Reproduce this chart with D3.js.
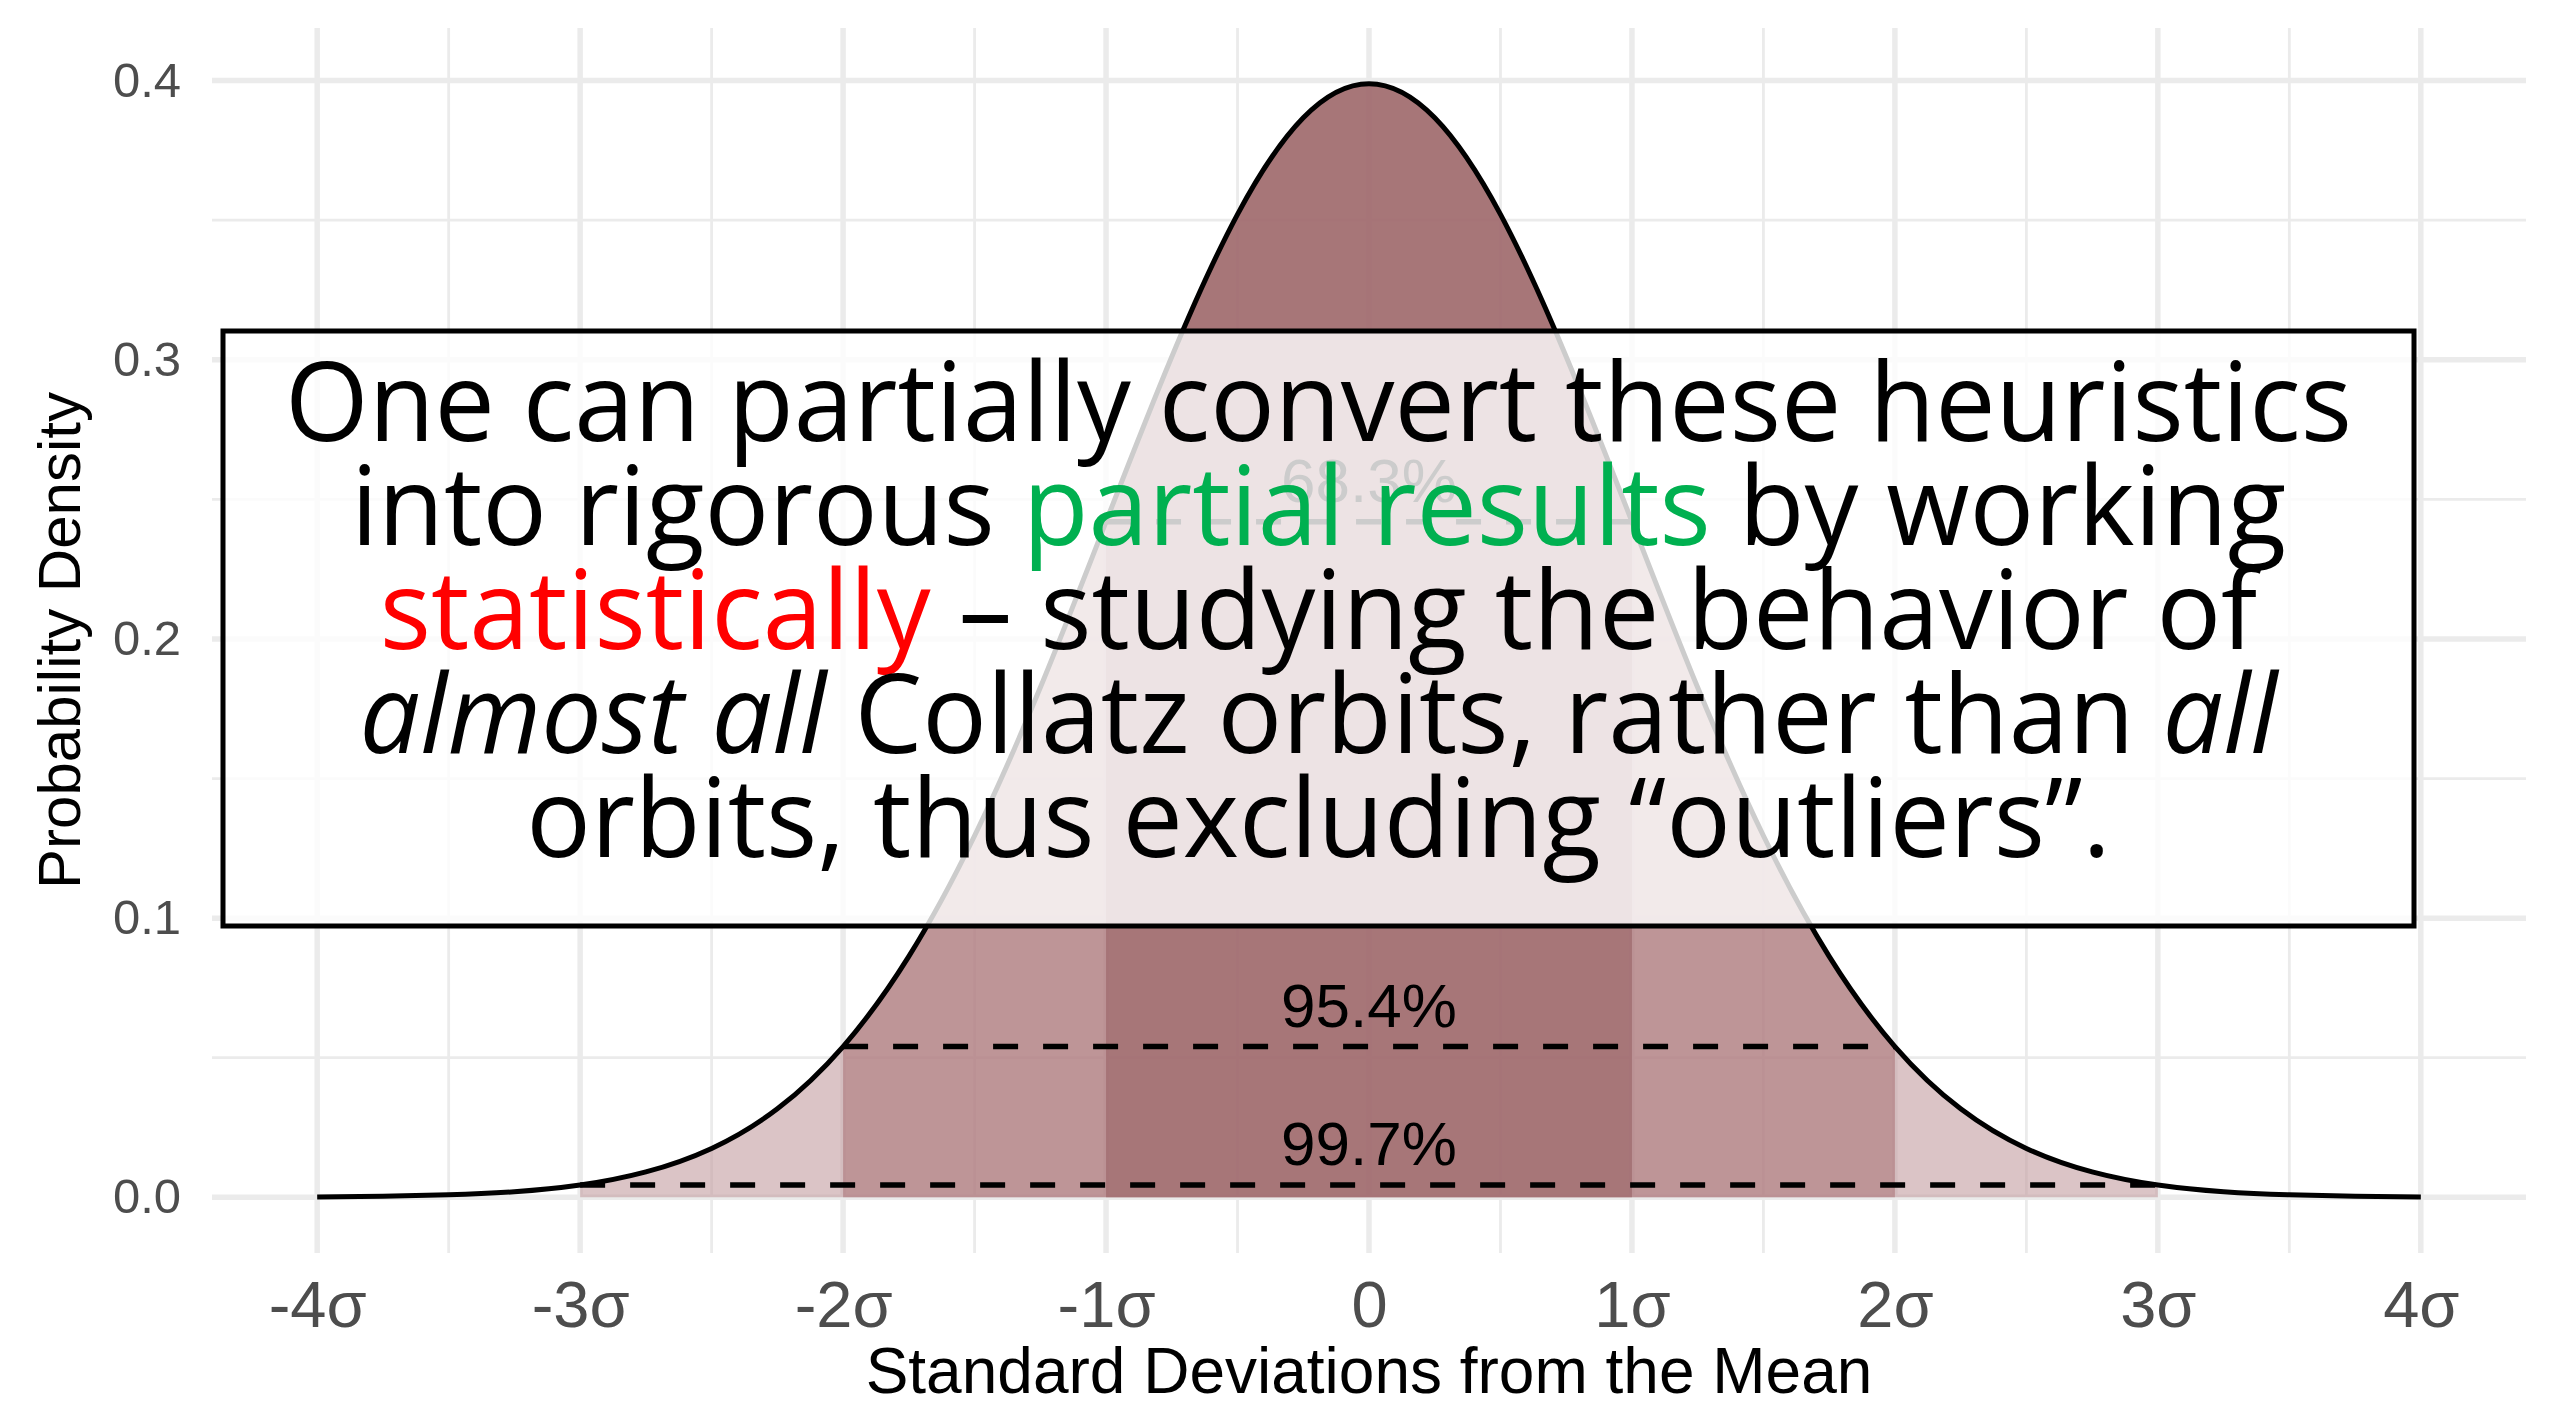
<!DOCTYPE html>
<html>
<head>
<meta charset="utf-8">
<script src="https://cdn.jsdelivr.net/npm/d3@7"></script>
<style>
  html, body { margin: 0; padding: 0; background: #fff; }
  svg { display: block; }
</style>
</head>
<body>
<script>
// Standard normal density, every quarter sigma
const densX = [-4, -3.75, -3.5, -3.25, -3, -2.75, -2.5, -2.25, -2, -1.75, -1.5, -1.25, -1, -0.75, -0.5, -0.25,
  0, 0.25, 0.5, 0.75, 1, 1.25, 1.5, 1.75, 2, 2.25, 2.5, 2.75, 3, 3.25, 3.5, 3.75, 4];
const densY = [0.0001, 0.0004, 0.0009, 0.002, 0.0044, 0.0091, 0.0175, 0.0317, 0.054, 0.0863, 0.1295, 0.1826, 0.242, 0.3011, 0.3521, 0.3867,
  0.3989, 0.3867, 0.3521, 0.3011, 0.242, 0.1826, 0.1295, 0.0863, 0.054, 0.0317, 0.0175, 0.0091, 0.0044, 0.002, 0.0009, 0.0004, 0.0001];

// shaded bands: half-width in sigma, label, fill
const bandK = [3, 2, 1];
const bandLabels = ["99.7%", "95.4%", "68.3%"];
const bandFills = ["#c5a0a3", "#ad787a", "#9a6265"];

const xTicks = [-4, -3, -2, -1, 0, 1, 2, 3, 4];
const xTickLabels = ["-4σ", "-3σ", "-2σ", "-1σ", "0", "1σ", "2σ", "3σ", "4σ"];
const xMinor = [-3.5, -2.5, -1.5, -0.5, 0.5, 1.5, 2.5, 3.5];
const yTicks = [0, 0.1, 0.2, 0.3, 0.4];
const yTickLabels = ["0.0", "0.1", "0.2", "0.3", "0.4"];
const yMinor = [0.05, 0.15, 0.25, 0.35];

const boxLines = [
  [{ t: "One can partially convert these heuristics" }],
  [{ t: "into rigorous " }, { t: "partial results", c: "#00b050" }, { t: " by working" }],
  [{ t: "statistically", c: "#ff0000" }, { t: " – studying the behavior of" }],
  [{ t: "almost all", i: true }, { t: " Collatz orbits, rather than " }, { t: "all", i: true }],
  [{ t: "orbits, thus excluding “outliers”." }]
];

const width = 2552, height = 1407;
const panel = { left: 212, right: 2526, top: 28, bottom: 1253 };

const x = d3.scaleLinear().domain([-4.4, 4.4]).range([panel.left, panel.right]);
const y = d3.scaleLinear().domain([-0.01995, 0.41884]).range([panel.bottom, panel.top]);

const svg = d3.select("body").append("svg")
  .attr("width", width).attr("height", height)
  .attr("viewBox", `0 0 ${width} ${height}`);

// grid
const grid = svg.append("g").attr("stroke", "#ebebeb").attr("fill", "none");
grid.selectAll("line.xmin").data(xMinor).join("line")
  .attr("x1", d => x(d)).attr("x2", d => x(d))
  .attr("y1", panel.top).attr("y2", panel.bottom).attr("stroke-width", 2.8);
grid.selectAll("line.ymin").data(yMinor).join("line")
  .attr("y1", d => y(d)).attr("y2", d => y(d))
  .attr("x1", panel.left).attr("x2", panel.right).attr("stroke-width", 2.8);
grid.selectAll("line.xmaj").data(xTicks).join("line")
  .attr("x1", d => x(d)).attr("x2", d => x(d))
  .attr("y1", panel.top).attr("y2", panel.bottom).attr("stroke-width", 5.5);
grid.selectAll("line.ymaj").data(yTicks).join("line")
  .attr("y1", d => y(d)).attr("y2", d => y(d))
  .attr("x1", panel.left).attr("x2", panel.right).attr("stroke-width", 5.5);

const pts = densX.map((v, i) => [v, densY[i]]);
const area = d3.area().x(d => x(d[0])).y0(y(0)).y1(d => y(d[1])).curve(d3.curveNatural);
const line = d3.line().x(d => x(d[0])).y(d => y(d[1])).curve(d3.curveNatural);

// bands, widest first
svg.append("g").selectAll("path").data(bandK).join("path")
  .attr("d", k => area(pts.filter(p => Math.abs(p[0]) <= k)))
  .attr("fill", (k, i) => bandFills[i])
  .attr("fill-opacity", 0.62);

svg.append("path")
  .attr("d", line(pts))
  .attr("fill", "none").attr("stroke", "#000").attr("stroke-width", 5);

// dashed reference lines at the band edges
const edgeY = k => densY[densX.indexOf(k)];
svg.append("g").selectAll("line").data(bandK).join("line")
  .attr("x1", k => x(-k)).attr("x2", k => x(k))
  .attr("y1", k => y(edgeY(k))).attr("y2", k => y(edgeY(k)))
  .attr("stroke", "#000").attr("stroke-width", 5.5).attr("stroke-dasharray", "25 25");

svg.append("g").selectAll("text").data(bandK).join("text")
  .attr("x", x(0)).attr("y", k => y(edgeY(k) + 0.015))
  .attr("dy", "0.36em")
  .attr("text-anchor", "middle")
  .style("font-family", "'Liberation Sans', Arial, sans-serif")
  .style("font-size", "62px")
  .attr("fill", "#000")
  .text((k, i) => bandLabels[i]);

// axes (labels only, ggplot minimal style)
const fontAxis = "'Liberation Sans', Arial, sans-serif";
const gx = svg.append("g").attr("transform", `translate(0,${panel.bottom})`)
  .call(d3.axisBottom(x).tickValues(xTicks).tickFormat((d, i) => xTickLabels[i]).tickSize(0).tickPadding(28));
gx.select(".domain").remove();
gx.selectAll("text").style("font-family", fontAxis).style("font-size", "65px").attr("fill", "#4d4d4d");

const gy = svg.append("g").attr("transform", `translate(${panel.left},0)`)
  .call(d3.axisLeft(y).tickValues(yTicks).tickFormat((d, i) => yTickLabels[i]).tickSize(0).tickPadding(31));
gy.select(".domain").remove();
gy.selectAll("text").style("font-family", fontAxis).style("font-size", "49px").attr("fill", "#4d4d4d");

svg.append("text")
  .attr("x", x(0)).attr("y", 1393)
  .attr("text-anchor", "middle")
  .style("font-family", fontAxis).style("font-size", "64px")
  .attr("fill", "#000")
  .text("Standard Deviations from the Mean");

svg.append("text")
  .attr("transform", `translate(80,${(panel.top + panel.bottom) / 2}) rotate(-90)`)
  .attr("text-anchor", "middle")
  .style("font-family", fontAxis).style("font-size", "60px")
  .attr("fill", "#000")
  .text("Probability Density");

// overlaid text box
const box = { x0: 223, x1: 2414, y0: 331, y1: 926, firstBase: 441, lead: 104, textW: 2067 };
svg.append("rect")
  .attr("x", box.x0).attr("y", box.y0)
  .attr("width", box.x1 - box.x0).attr("height", box.y1 - box.y0)
  .attr("fill", "#fff").attr("fill-opacity", 0.8)
  .attr("stroke", "#000").attr("stroke-width", 5);

const cx = (box.x0 + box.x1) / 2;
const texts = svg.append("g").selectAll("text").data(boxLines).join("text")
  .attr("x", cx).attr("y", (d, i) => box.firstBase + i * box.lead)
  .attr("text-anchor", "middle")
  .style("font-family", "'Open Sans', 'Noto Sans', sans-serif")
  .style("font-weight", 400)
  .style("font-size", "110px")
  .attr("fill", "#000");
texts.selectAll("tspan").data(d => d).join("tspan")
  .attr("fill", d => d.c || "#000")
  .style("font-style", d => d.i ? "italic" : "normal")
  .text(d => d.t);

const natural = texts.nodes().map(n => n.getComputedTextLength());
const squeeze = box.textW / natural[0];
texts.each(function (d, i) {
  d3.select(this).attr("textLength", natural[i] * squeeze).attr("lengthAdjust", "spacingAndGlyphs");
});
</script>
</body>
</html>
